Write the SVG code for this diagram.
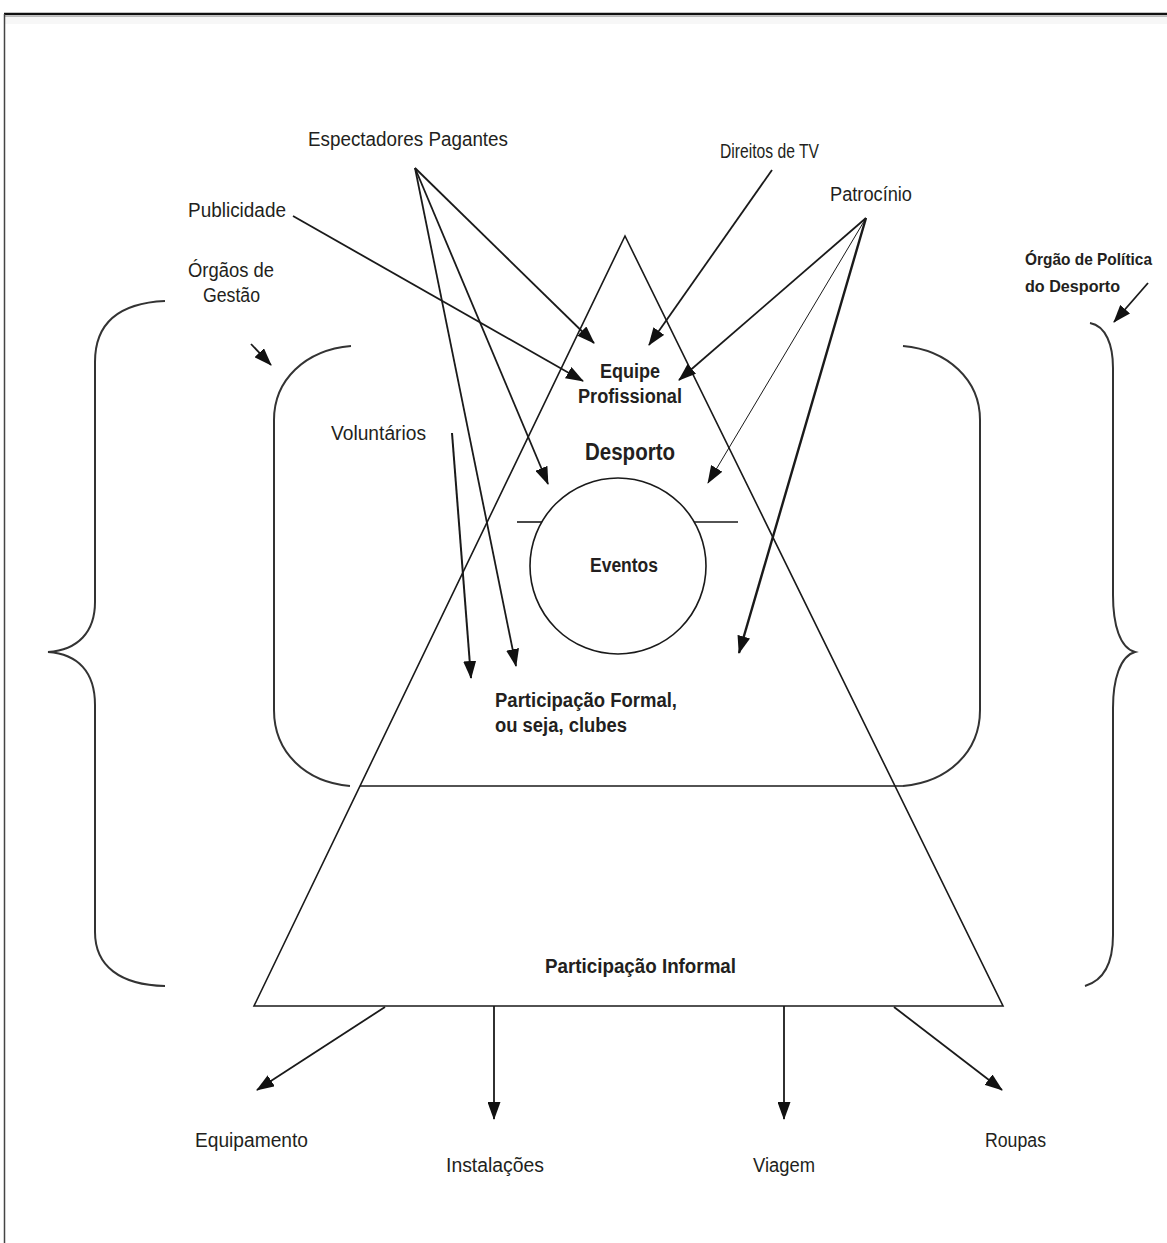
<svg xmlns="http://www.w3.org/2000/svg" width="1167" height="1243" viewBox="0 0 1167 1243">
<style>
.lbl{font-family:"Liberation Sans",Arial,sans-serif;font-size:20px;fill:#231f20}
.bld{font-family:"Liberation Sans",Arial,sans-serif;font-size:20px;font-weight:bold;fill:#231f20}
.ln{stroke:#1a1a1a;stroke-width:1.6;fill:none}
.ar{stroke:#1a1a1a;stroke-width:1.8;fill:none;marker-end:url(#ah)}
.br{stroke:#333;stroke-width:2;fill:none}
</style>
<defs>
<marker id="ah" markerUnits="userSpaceOnUse" markerWidth="18" markerHeight="13" refX="17" refY="6.5" orient="auto">
<path d="M0,0 L18,6.5 L0,13 Z" fill="#111"/>
</marker>
</defs>
<rect width="1167" height="1243" fill="#fff"/>
<g id="frame">
<line x1="4" y1="14" x2="1167" y2="14" stroke="#111" stroke-width="2.5"/>
<line x1="4" y1="16.5" x2="1167" y2="16.5" stroke="#bbb" stroke-width="1"/>
<rect x="5" y="17" width="1162" height="7" fill="#f7f7f7"/>
<line x1="4.5" y1="14" x2="4.5" y2="1243" stroke="#444" stroke-width="1.5"/>
</g>
<g id="pyramid">
<polygon points="625,236 254,1006 1003,1006" class="ln"/>
<line x1="360" y1="786" x2="903" y2="786" class="ln"/>
</g>
<g id="eventos">
<circle cx="618" cy="566" r="88" class="ln"/>
<line x1="517" y1="522" x2="542" y2="522" class="ln"/>
<line x1="694" y1="522" x2="738" y2="522" class="ln"/>
<text class="bld" x="590" y="572" textLength="68" lengthAdjust="spacingAndGlyphs">Eventos</text>
</g>
<g id="brackets">
<path class="br" d="M165,301 C120,303 95,322 95,362 L95,602 C95,632 78,650 48,652 C78,654 95,672 95,705 L95,932 C95,966 120,985 165,986"/>
<path class="br" d="M351,346 C305,350 274,380 274,420 L274,710 C274,752 305,782 350,786"/>
<path class="br" d="M903,346 C948,350 980,380 980,420 L980,710 C980,752 948,782 903,786"/>
<path class="br" d="M1090,323 C1106,326 1113,345 1113,368 L1113,595 C1113,625 1120,648 1135,652 C1120,656 1113,680 1113,708 L1113,935 C1113,960 1105,980 1085,986"/>
</g>
<g id="connectors">
<line class="ar" x1="415" y1="168" x2="594" y2="343"/>
<line class="ar" x1="415" y1="168" x2="548" y2="484"/>
<line class="ar" x1="415" y1="168" x2="516" y2="666"/>
<line class="ar" x1="293" y1="216" x2="583" y2="381"/>
<line class="ar" x1="772" y1="170" x2="649" y2="345"/>
<line class="ar" x1="866" y1="218" x2="679" y2="380"/>
<line class="ar" x1="866" y1="218" x2="708" y2="483" style="stroke-width:1"/>
<line class="ar" x1="866" y1="218" x2="739" y2="653" style="stroke-width:2.4"/>
<line class="ar" x1="452" y1="433" x2="471" y2="678" style="stroke-width:2"/>
<line class="ar" x1="251" y1="344" x2="271" y2="365"/>
<line class="ar" x1="1148" y1="283" x2="1114" y2="322"/>
<line class="ar" x1="385" y1="1007" x2="257" y2="1090"/>
<line class="ar" x1="494" y1="1006" x2="494" y2="1119"/>
<line class="ar" x1="784" y1="1006" x2="784" y2="1119"/>
<line class="ar" x1="894" y1="1007" x2="1002" y2="1090"/>
</g>
<g id="labels">
<text class="lbl" x="308" y="146" textLength="200" lengthAdjust="spacingAndGlyphs">Espectadores Pagantes</text>
<text class="lbl" x="188" y="217" textLength="98" lengthAdjust="spacingAndGlyphs">Publicidade</text>
<text class="lbl" x="720" y="158" textLength="99" lengthAdjust="spacingAndGlyphs">Direitos de TV</text>
<text class="lbl" x="830" y="201" textLength="82" lengthAdjust="spacingAndGlyphs">Patrocínio</text>
<text class="lbl" x="188" y="277" textLength="86" lengthAdjust="spacingAndGlyphs">Órgãos de</text>
<text class="lbl" x="203" y="302" textLength="57" lengthAdjust="spacingAndGlyphs">Gestão</text>
<text class="lbl" x="331" y="440" textLength="95" lengthAdjust="spacingAndGlyphs">Voluntários</text>
<text class="bld" x="1025" y="265" textLength="127" lengthAdjust="spacingAndGlyphs" style="font-size:16.5px">Órgão de Política</text>
<text class="bld" x="1025" y="292" textLength="95" lengthAdjust="spacingAndGlyphs" style="font-size:16.5px">do Desporto</text>
<text class="bld" x="600" y="378" textLength="60" lengthAdjust="spacingAndGlyphs">Equipe</text>
<text class="bld" x="578" y="403" textLength="104" lengthAdjust="spacingAndGlyphs">Profissional</text>
<text class="bld" x="585" y="460" textLength="90" lengthAdjust="spacingAndGlyphs" style="font-size:23px">Desporto</text>
<text class="bld" x="495" y="707" textLength="182" lengthAdjust="spacingAndGlyphs">Participação Formal,</text>
<text class="bld" x="495" y="732" textLength="132" lengthAdjust="spacingAndGlyphs">ou seja, clubes</text>
<text class="bld" x="545" y="973" textLength="191" lengthAdjust="spacingAndGlyphs">Participação Informal</text>
<text class="lbl" x="195" y="1147" textLength="113" lengthAdjust="spacingAndGlyphs">Equipamento</text>
<text class="lbl" x="446" y="1172" textLength="98" lengthAdjust="spacingAndGlyphs">Instalações</text>
<text class="lbl" x="753" y="1172" textLength="62" lengthAdjust="spacingAndGlyphs">Viagem</text>
<text class="lbl" x="985" y="1147" textLength="61" lengthAdjust="spacingAndGlyphs">Roupas</text>
</g>
</svg>
